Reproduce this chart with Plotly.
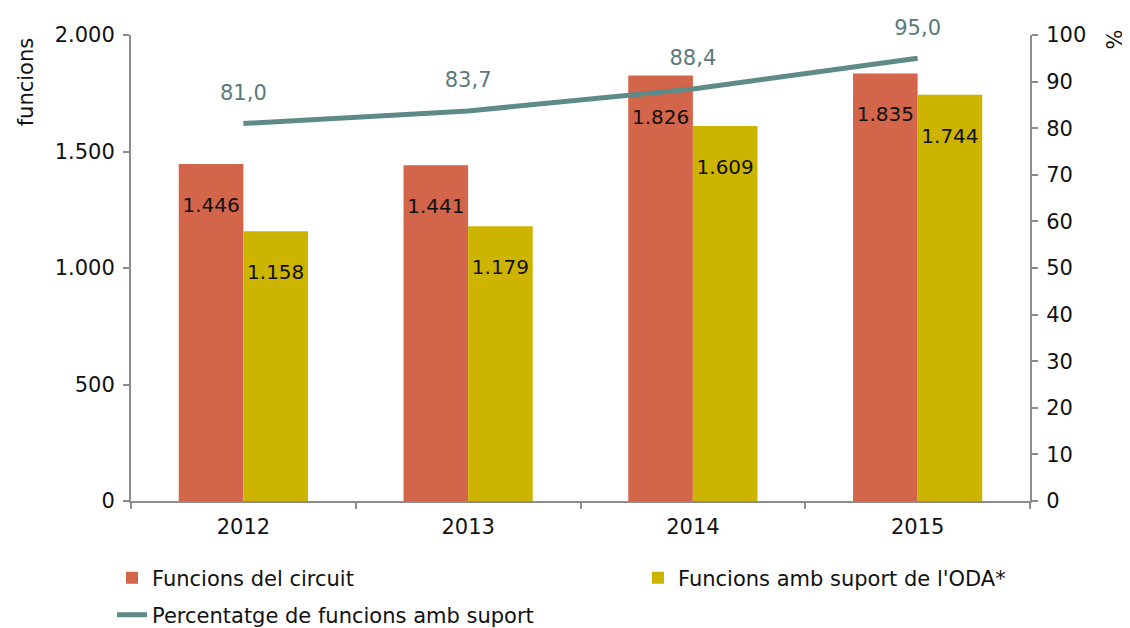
import plotly.graph_objects as go

years = ["2012", "2013", "2014", "2015"]
circuit = [1446, 1441, 1826, 1835]
oda = [1158, 1179, 1609, 1744]
pct = [81.0, 83.7, 88.4, 95.0]

RED = "#D3654B"
YEL = "#CCB400"
LINE = "#5E8A88"
LBL = "#5A7A7A"
AX = "#8C8C8C"
FONT = "DejaVu Sans"
FS = 21

W, H = 1122, 620  # page body has an 8px margin

fig = go.Figure()
fig.add_trace(go.Bar(
    x=years, y=circuit, name="Funcions del circuit", marker_color=RED,
    marker_line_width=0, legend="legend",
    texttemplate="\u00a0<br>%{y:,}", textposition="inside", insidetextanchor="end",
    textangle=0,
    textfont=dict(color="#111111", size=20, family=FONT), constraintext="none",
))
fig.add_trace(go.Bar(
    x=years, y=oda, name="Funcions amb suport de l'ODA*", marker_color=YEL,
    marker_line_width=0, legend="legend2",
    texttemplate="\u00a0<br>%{y:,}", textposition="inside", insidetextanchor="end",
    textangle=0,
    textfont=dict(color="#111111", size=20, family=FONT), constraintext="none",
))
fig.add_trace(go.Scatter(
    x=years, y=pct, name="Percentatge de funcions amb suport", yaxis="y2",
    mode="lines+markers+text", line=dict(color=LINE, width=5),
    marker=dict(size=28, color="rgba(0,0,0,0)", line=dict(width=0)),
    legend="legend3",
    texttemplate="%{y:.1f}", textposition="top center",
    textfont=dict(color=LBL, size=FS, family=FONT), cliponaxis=False,
))

axcommon = dict(showline=True, linecolor=AX, linewidth=2, ticks="outside",
                tickcolor=AX, ticklen=6, tickwidth=2, showgrid=False,
                automargin=False)

leg = dict(xref="container", yref="container", xanchor="left",
           yanchor="middle", font=dict(size=FS), bgcolor="rgba(0,0,0,0)")

fig.update_layout(
    width=W, height=H,
    margin=dict(l=123, r=100, t=27, b=127, autoexpand=False),
    paper_bgcolor="white", plot_bgcolor="white",
    font=dict(family=FONT, size=FS, color="#111111"),
    separators=",.",
    barmode="group", bargap=0.425, bargroupgap=0,
    xaxis=dict(tickson="boundaries", ticklabelstandoff=6, **axcommon),
    yaxis=dict(range=[0, 2000], dtick=500, tickformat=",", zeroline=False,
               ticklabelstandoff=4, **axcommon),
    yaxis2=dict(range=[0, 100], dtick=10, overlaying="y", side="right",
                zeroline=False, ticklabelstandoff=4, **axcommon),
    legend=dict(x=104 / W, y=1 - 570 / H, **leg),
    legend2=dict(x=630 / W, y=1 - 570 / H, **leg),
    legend3=dict(x=104 / W, y=1 - 607 / H, **leg),
    showlegend=True,
    annotations=[
        dict(text="funcions", xref="paper", yref="paper", x=-0.117, y=1.0,
             xanchor="center", yanchor="top", textangle=-90, showarrow=False,
             font=dict(size=FS)),
        dict(text="%", xref="paper", yref="paper", x=1.0935, y=1.016,
             xanchor="center", yanchor="top", textangle=-90, showarrow=False,
             font=dict(size=FS)),
    ],
)

fig.write_html("out.html")
